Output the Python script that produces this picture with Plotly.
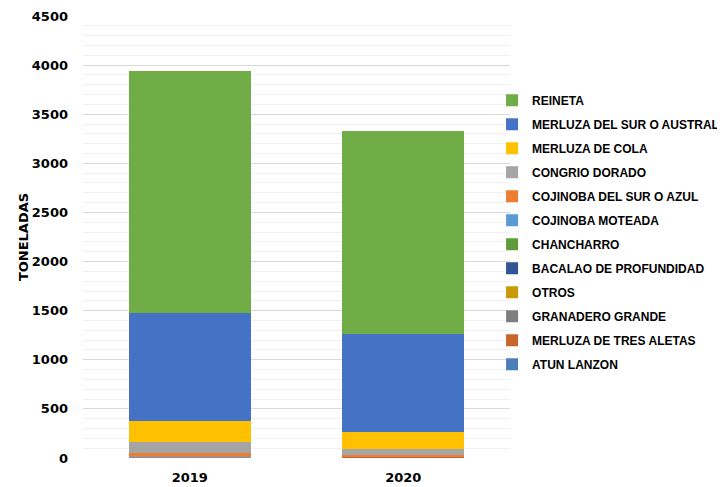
import plotly.graph_objects as go

years = ["2019", "2020"]

# series listed bottom of stack -> top of stack
species = [
    "ATUN LANZON",
    "MERLUZA DE TRES ALETAS",
    "GRANADERO GRANDE",
    "OTROS",
    "BACALAO DE PROFUNDIDAD",
    "CHANCHARRO",
    "COJINOBA MOTEADA",
    "COJINOBA DEL SUR O AZUL",
    "CONGRIO DORADO",
    "MERLUZA DE COLA",
    "MERLUZA DEL SUR O AUSTRAL",
    "REINETA",
]

atun_lanzon = [2, 10]
merluza_tres_aletas = [1, 2]
granadero_grande = [1, 1]
otros = [1, 1]
bacalao = [1, 1]
chancharro = [1, 1]
cojinoba_moteada = [1, 1]
cojinoba_sur = [45, 10]
congrio_dorado = [106, 68]
merluza_cola = [220, 166]
merluza_austral = [1100, 1000]
reineta = [2465, 2067]

values = [
    atun_lanzon, merluza_tres_aletas, granadero_grande, otros, bacalao,
    chancharro, cojinoba_moteada, cojinoba_sur, congrio_dorado,
    merluza_cola, merluza_austral, reineta,
]

colors = [
    "#4a7ebb", "#c8642c", "#7f7f7f", "#c99a06", "#2f5597",
    "#5e9b3a", "#5b9bd5", "#ed7d31", "#a5a5a5", "#ffc000",
    "#4472c4", "#70ad47",
]

fig = go.Figure()
for i, (name, vals, col) in enumerate(zip(species, values, colors)):
    fig.add_trace(go.Bar(
        x=years, y=vals, name=name, legendgroup=name,
        legendrank=100 - i,  # top of stack first in legend
        marker=dict(color=col, line=dict(width=0)),
        hovertemplate="%{x}<br>" + name + ": %{y}<extra></extra>",
    ))

legend_font = "Liberation Sans, Arial, sans-serif"
axis_font = "DejaVu Sans, Verdana, sans-serif"

# page body has an 8px margin, so the figure is a bit smaller than the window
fig.update_layout(
    barmode="stack",
    bargap=0.43,
    width=717,
    height=479,
    margin=dict(l=75, r=215, t=8, b=29, autoexpand=False),
    paper_bgcolor="white",
    plot_bgcolor="white",
    font=dict(family=axis_font, color="#000000", size=12),
    legend=dict(
        traceorder="grouped",
        tracegroupgap=5,
        x=0.958, xanchor="left",
        y=0.842, yanchor="top",
        font=dict(family=legend_font, size=12, color="#000000", weight="bold"),
        itemwidth=30,
        bgcolor="rgba(0,0,0,0)",
    ),
    xaxis=dict(
        showline=False,
        showgrid=False,
        tickfont=dict(family=axis_font, size=13, color="#000000", weight="bold"),
        ticks="",
        ticklabelstandoff=10,
    ),
    yaxis=dict(
        range=[0, 4500],
        dtick=500,
        showgrid=True,
        gridcolor="#d9d9d9",
        gridwidth=1,
        zeroline=False,
        automargin=False,
        minor=dict(dtick=100, showgrid=True, gridcolor="#f0f0f0", gridwidth=1),
        tickfont=dict(family=axis_font, size=13, color="#000000", weight="bold"),
        ticks="",
        ticklabelstandoff=14,
        title=dict(
            text="TONELADAS",
            font=dict(family=axis_font, size=13, color="#000000", weight="bold"),
            standoff=0,
        ),
    ),
)

fig.write_html("out.html")
